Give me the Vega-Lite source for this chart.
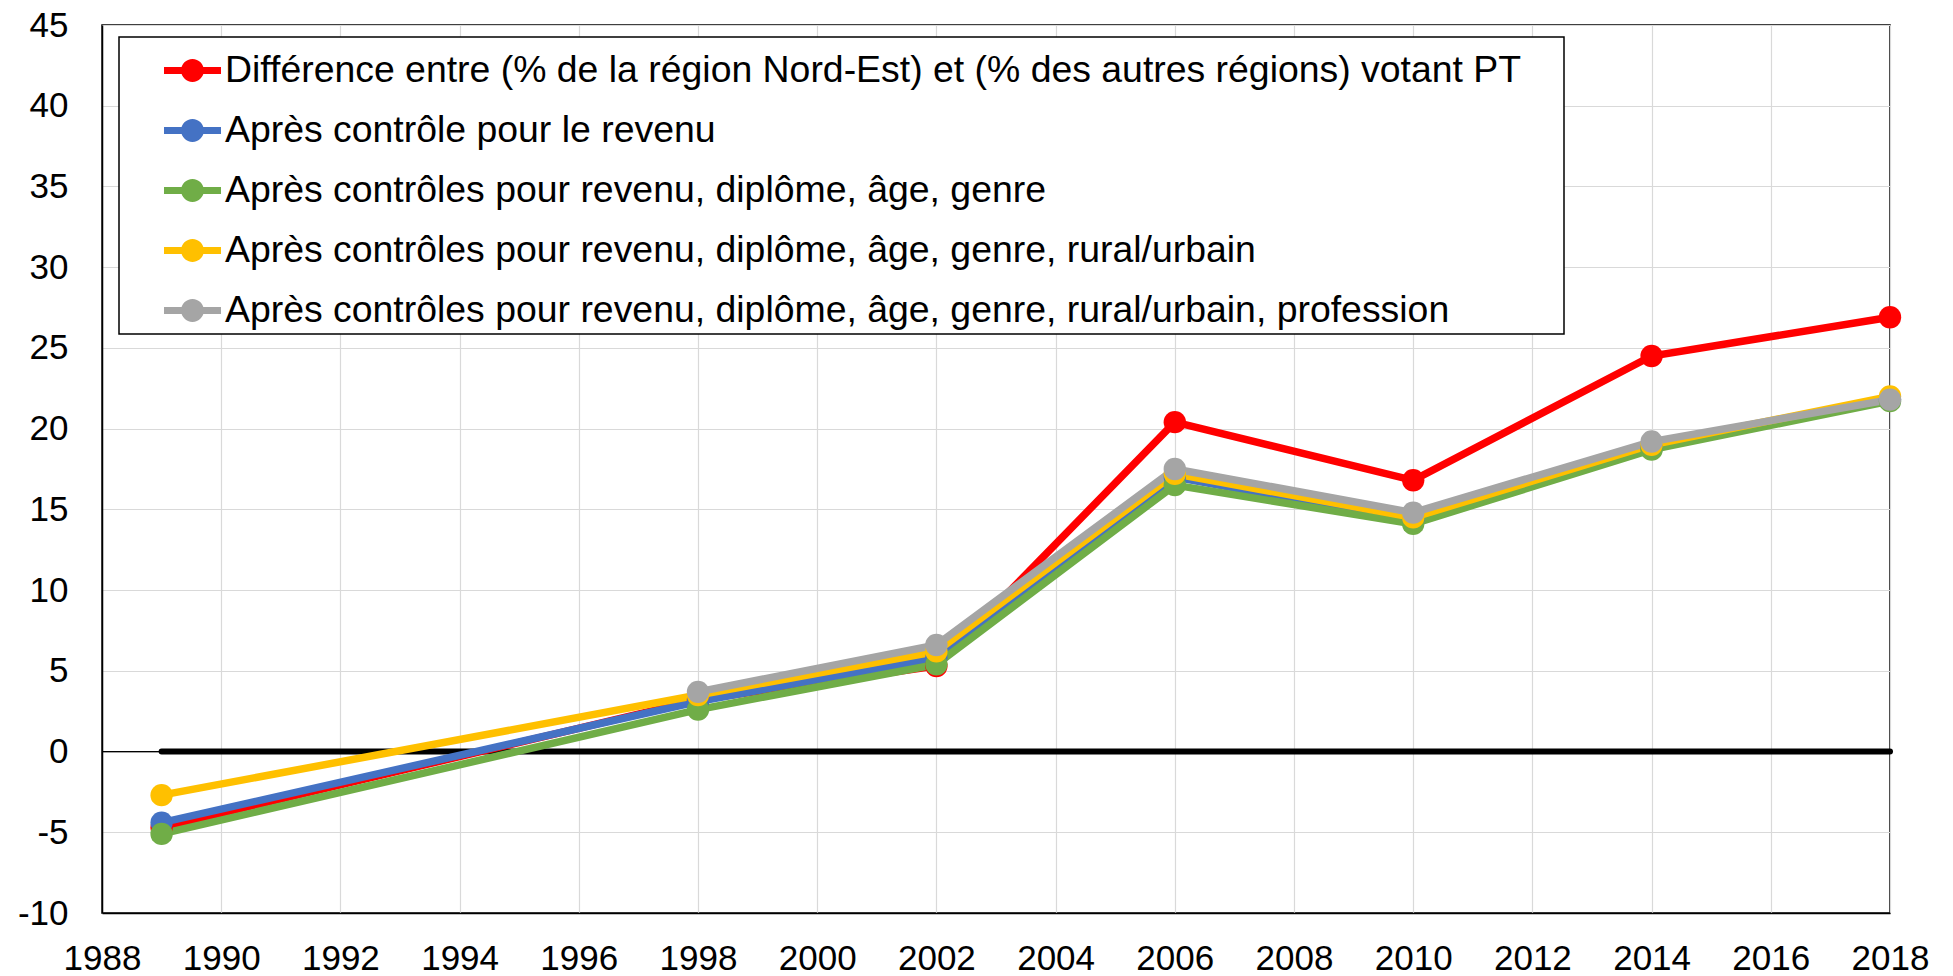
{
  "$schema": "https://vega.github.io/schema/vega-lite/v6.json",
  "width": 1788,
  "height": 888,
  "autosize": {"type": "none"},
  "padding": {"left": 102, "top": 25, "right": 63, "bottom": 63},
  "background": "white",
  "config": {
    "font": "Liberation Sans",
    "view": {"stroke": "black", "strokeWidth": 1.5},
    "axis": {"labelFont": "Liberation Sans", "labelFontSize": 35, "labelColor": "black", "gridColor": "#D9D9D9", "gridWidth": 1.2, "ticks": false, "domainColor": "black", "domainWidth": 1.5, "title": null},
    "legend": {
      "title": null, "orient": "none", "legendX": 17, "legendY": 12,
      "direction": "vertical",
      "fillColor": "white", "strokeColor": "black", "strokeWidth": 1.5,
      "padding": 5,
      "symbolOffset": 40,
      "labelFont": "Liberation Sans", "labelFontSize": 37.4, "labelColor": "black", "labelLimit": 2000, "labelOffset": 4,
      "symbolType": "M-1,-0.12L1,-0.12L1,0.12L-1,0.12Z M0.4,0A0.4,0.4,0,1,1,-0.4,0A0.4,0.4,0,1,1,0.4,0Z",
      "symbolSize": 3249, "symbolStrokeWidth": 0, "symbolOpacity": 1,
      "rowPadding": 13
    }
  },
  "datasets": {
    "series": [
      {"year": 1989, "value": -4.7, "s": "Différence entre (% de la région Nord-Est) et (% des autres régions) votant PT"},
      {"year": 1998, "value": 3.2, "s": "Différence entre (% de la région Nord-Est) et (% des autres régions) votant PT"},
      {"year": 2002, "value": 5.3, "s": "Différence entre (% de la région Nord-Est) et (% des autres régions) votant PT"},
      {"year": 2006, "value": 20.4, "s": "Différence entre (% de la région Nord-Est) et (% des autres régions) votant PT"},
      {"year": 2010, "value": 16.8, "s": "Différence entre (% de la région Nord-Est) et (% des autres régions) votant PT"},
      {"year": 2014, "value": 24.5, "s": "Différence entre (% de la région Nord-Est) et (% des autres régions) votant PT"},
      {"year": 2018, "value": 26.9, "s": "Différence entre (% de la région Nord-Est) et (% des autres régions) votant PT"},
      {"year": 1989, "value": -4.4, "s": "Après contrôle pour le revenu"},
      {"year": 1998, "value": 3.1, "s": "Après contrôle pour le revenu"},
      {"year": 2002, "value": 5.8, "s": "Après contrôle pour le revenu"},
      {"year": 2006, "value": 17.0, "s": "Après contrôle pour le revenu"},
      {"year": 2010, "value": 14.3, "s": "Après contrôle pour le revenu"},
      {"year": 2014, "value": 18.8, "s": "Après contrôle pour le revenu"},
      {"year": 2018, "value": 21.8, "s": "Après contrôle pour le revenu"},
      {"year": 1989, "value": -5.1, "s": "Après contrôles pour revenu, diplôme, âge, genre"},
      {"year": 1998, "value": 2.6, "s": "Après contrôles pour revenu, diplôme, âge, genre"},
      {"year": 2002, "value": 5.4, "s": "Après contrôles pour revenu, diplôme, âge, genre"},
      {"year": 2006, "value": 16.5, "s": "Après contrôles pour revenu, diplôme, âge, genre"},
      {"year": 2010, "value": 14.1, "s": "Après contrôles pour revenu, diplôme, âge, genre"},
      {"year": 2014, "value": 18.7, "s": "Après contrôles pour revenu, diplôme, âge, genre"},
      {"year": 2018, "value": 21.7, "s": "Après contrôles pour revenu, diplôme, âge, genre"},
      {"year": 1989, "value": -2.7, "s": "Après contrôles pour revenu, diplôme, âge, genre, rural/urbain"},
      {"year": 1998, "value": 3.5, "s": "Après contrôles pour revenu, diplôme, âge, genre, rural/urbain"},
      {"year": 2002, "value": 6.2, "s": "Après contrôles pour revenu, diplôme, âge, genre, rural/urbain"},
      {"year": 2006, "value": 17.2, "s": "Après contrôles pour revenu, diplôme, âge, genre, rural/urbain"},
      {"year": 2010, "value": 14.5, "s": "Après contrôles pour revenu, diplôme, âge, genre, rural/urbain"},
      {"year": 2014, "value": 19.0, "s": "Après contrôles pour revenu, diplôme, âge, genre, rural/urbain"},
      {"year": 2018, "value": 22.0, "s": "Après contrôles pour revenu, diplôme, âge, genre, rural/urbain"},
      {"year": 1998, "value": 3.7, "s": "Après contrôles pour revenu, diplôme, âge, genre, rural/urbain, profession"},
      {"year": 2002, "value": 6.6, "s": "Après contrôles pour revenu, diplôme, âge, genre, rural/urbain, profession"},
      {"year": 2006, "value": 17.5, "s": "Après contrôles pour revenu, diplôme, âge, genre, rural/urbain, profession"},
      {"year": 2010, "value": 14.8, "s": "Après contrôles pour revenu, diplôme, âge, genre, rural/urbain, profession"},
      {"year": 2014, "value": 19.2, "s": "Après contrôles pour revenu, diplôme, âge, genre, rural/urbain, profession"},
      {"year": 2018, "value": 21.8, "s": "Après contrôles pour revenu, diplôme, âge, genre, rural/urbain, profession"}
    ],
    "zero": [
      {"year": 1989, "value": 0},
      {"year": 2018, "value": 0}
    ],
    "axis0": [{"value": 0}]
  },
  "layer": [
    {
      "data": {"name": "axis0"},
      "mark": {"type": "rule", "color": "black", "strokeWidth": 1.2},
      "encoding": {"y": {"field": "value", "type": "quantitative"}}
    },
    {
      "data": {"name": "zero"},
      "mark": {"type": "line", "color": "black", "strokeWidth": 6, "strokeCap": "round"},
      "encoding": {
        "x": {"field": "year", "type": "quantitative"},
        "y": {"field": "value", "type": "quantitative"}
      }
    },
    {
      "data": {"name": "series"},
      "mark": {"type": "line", "strokeWidth": 7.5},
      "encoding": {
        "x": {"field": "year", "type": "quantitative"},
        "y": {"field": "value", "type": "quantitative"},
        "color": {"field": "s", "type": "nominal", "sort": null,
          "scale": {"domain": ["Différence entre (% de la région Nord-Est) et (% des autres régions) votant PT", "Après contrôle pour le revenu", "Après contrôles pour revenu, diplôme, âge, genre", "Après contrôles pour revenu, diplôme, âge, genre, rural/urbain", "Après contrôles pour revenu, diplôme, âge, genre, rural/urbain, profession"],
            "range": ["#FF0000", "#4472C4", "#70AD47", "#FFC000", "#A5A5A5"]},
          "legend": {"labelExpr": "datum.label + '\u2003\u200b'"}}
      }
    },
    {
      "data": {"name": "series"},
      "mark": {"type": "point", "filled": true, "opacity": 1, "size": 500},
      "encoding": {
        "x": {"field": "year", "type": "quantitative",
          "scale": {"domain": [1988, 2018], "nice": false, "zero": false},
          "axis": {"values": [1988, 1990, 1992, 1994, 1996, 1998, 2000, 2002, 2004, 2006, 2008, 2010, 2012, 2014, 2016, 2018], "format": "d", "labelPadding": 28, "labelFlush": false, "labelOverlap": false}},
        "y": {"field": "value", "type": "quantitative",
          "scale": {"domain": [-10, 45], "nice": false, "zero": false},
          "axis": {"values": [-10, -5, 0, 5, 10, 15, 20, 25, 30, 35, 40, 45], "labelExpr": "'' + datum.value", "labelPadding": 34, "labelFlush": false, "labelOverlap": false}},
        "color": {"field": "s", "type": "nominal", "sort": null,
          "legend": {"labelExpr": "datum.label + '\u2003\u200b'"}}
      }
    }
  ]
}
